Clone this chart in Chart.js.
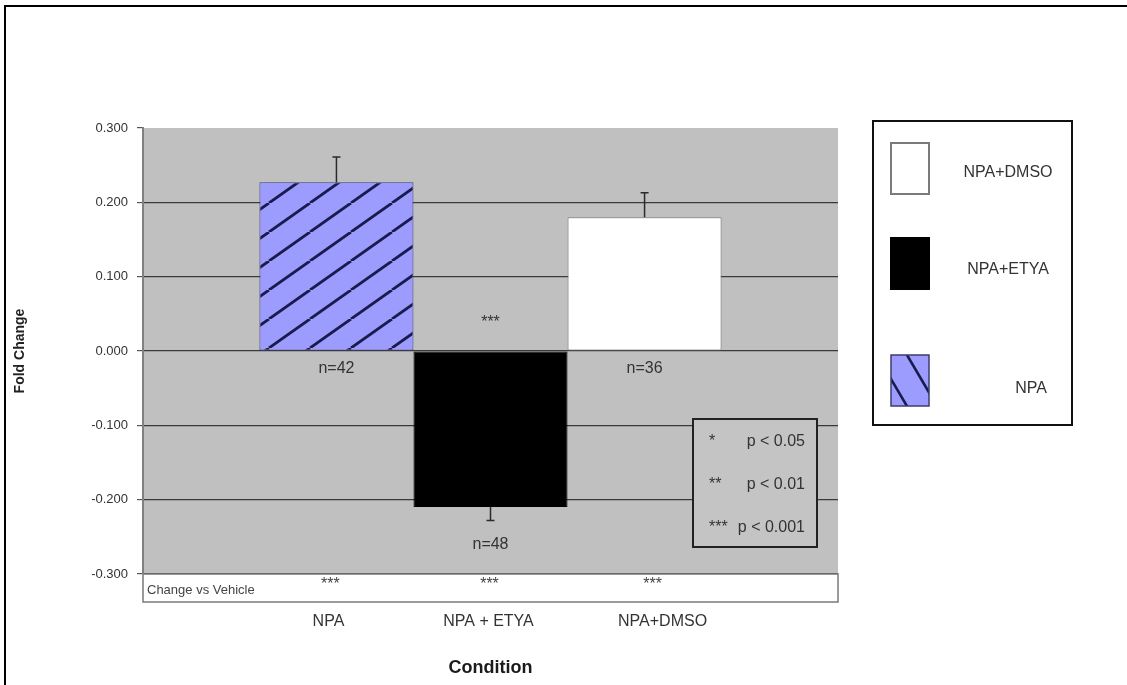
<!DOCTYPE html>
<html><head><meta charset="utf-8">
<script src="https://cdn.jsdelivr.net/npm/chart.js@4/dist/chart.umd.min.js"></script>
<style>html,body{margin:0;padding:0;background:#fff;}#wrap{width:1127px;height:685px;position:relative;}</style>
</head><body><div id="wrap"><canvas id="c" width="1127" height="685"></canvas></div>
<script>
// ---------------- data ----------------
const conditions   = ['NPA', 'NPA + ETYA', 'NPA+DMSO'];
const seriesNames  = ['NPA', 'NPA+ETYA', 'NPA+DMSO'];
const foldChange   = [0.227, -0.210, 0.180];
const errorSE      = [0.034, 0.018, 0.033];
const sampleSizes  = ['n=42', 'n=48', 'n=36'];
const sigVsNPA     = ['', '***', ''];
const sigVsVehicle = ['***', '***', '***'];
const yTicks       = [-0.3, -0.2, -0.1, 0, 0.1, 0.2, 0.3];
const pKeyStars    = ['*', '**', '***'];
const pKeyText     = ['p < 0.05', 'p < 0.01', 'p < 0.001'];
const stripLabel   = 'Change vs Vehicle';
const xTitle       = 'Condition';
const yTitle       = 'Fold Change';

const FONT = "'Liberation Sans', Arial, Helvetica, sans-serif";
Chart.defaults.font.family = FONT;

// striped fill for NPA
function stripePattern() {
  const W = 41, H = 29;
  const c = document.createElement('canvas'); c.width = W; c.height = H;
  const g = c.getContext('2d');
  g.fillStyle = '#9c9cff'; g.fillRect(0, 0, W, H);
  g.strokeStyle = '#1a1a4e'; g.lineWidth = 2.8;
  for (let k = -1; k <= 1; k++) {
    g.beginPath(); g.moveTo(k * W, H); g.lineTo((k + 1) * W, 0); g.stroke();
  }
  const p = g.createPattern(c, 'repeat');
  try { p.setTransform(new DOMMatrix().translate(23, 0)); } catch (e) {}
  return p;
}
const npaFill = stripePattern();

const fills   = [npaFill, '#000000', '#ffffff'];
const borders = ['#3c3c8c', '#000000', '#808080'];

const datasets = seriesNames.map((name, i) => ({
  label: name,
  data: [foldChange[i]],
  backgroundColor: fills[i],
  borderColor: borders[i],
  borderWidth: 1,
  borderSkipped: false,
  categoryPercentage: 0.665,
  barPercentage: 1.0
}));

const decor = {
  id: 'decor',
  beforeDraw(chart) {
    const {ctx, chartArea: a} = chart;
    ctx.save();
    ctx.fillStyle = '#ffffff'; ctx.fillRect(0, 0, chart.width, chart.height);
    ctx.fillStyle = '#c0c0c0'; ctx.fillRect(a.left, a.top, a.right - a.left, a.bottom - a.top);
    ctx.restore();
  },
  afterDatasetsDraw(chart) {
    const {ctx, chartArea: a} = chart;
    const ys = chart.scales.y;
    const zero = ys.getPixelForValue(0);
    ctx.save();
    // error bars
    ctx.strokeStyle = '#2a2a2a'; ctx.lineWidth = 1.5;
    chart.data.datasets.forEach((ds, i) => {
      const bar = chart.getDatasetMeta(i).data[0];
      const v = foldChange[i];
      const end = v >= 0 ? v + errorSE[i] : v - errorSE[i];
      const y0 = ys.getPixelForValue(v), y1 = ys.getPixelForValue(end);
      ctx.beginPath(); ctx.moveTo(bar.x, y0); ctx.lineTo(bar.x, y1);
      ctx.moveTo(bar.x - 4, y1); ctx.lineTo(bar.x + 4, y1); ctx.stroke();
    });
    // n labels and significance vs NPA
    ctx.fillStyle = '#333'; ctx.textAlign = 'center'; ctx.textBaseline = 'alphabetic';
    ctx.font = '16px ' + FONT;
    chart.data.datasets.forEach((ds, i) => {
      const bar = chart.getDatasetMeta(i).data[0];
      const v = foldChange[i];
      let y;
      if (v >= 0) y = zero + 22;
      else y = ys.getPixelForValue(v - errorSE[i]) + 29;
      ctx.fillText(sampleSizes[i], bar.x, y);
      if (sigVsNPA[i]) ctx.fillText(sigVsNPA[i], bar.x, zero - 24);
    });
    // p-value key box
    const bx = 693, by = 419, bw = 124, bh = 128;
    ctx.fillStyle = '#c4c4c4'; ctx.fillRect(bx, by, bw, bh);
    ctx.strokeStyle = '#222'; ctx.lineWidth = 2; ctx.strokeRect(bx, by, bw, bh);
    ctx.fillStyle = '#333'; ctx.font = '16px ' + FONT;
    pKeyStars.forEach((s, i) => {
      const base = 446 + i * 43;
      ctx.textAlign = 'left'; ctx.fillText(s, 709, base);
      ctx.textAlign = 'right'; ctx.fillText(pKeyText[i], 805, base);
    });
    // strip below the plot
    const st = a.bottom, sh = 28;
    ctx.fillStyle = '#ffffff'; ctx.fillRect(a.left, st, a.right - a.left, sh);
    ctx.strokeStyle = '#7a7a7a'; ctx.lineWidth = 1.5; ctx.strokeRect(a.left, st, a.right - a.left, sh);
    ctx.fillStyle = '#444'; ctx.textAlign = 'left'; ctx.font = '13px ' + FONT;
    ctx.fillText(stripLabel, a.left + 4, st + 20);
    const starX = [-6, -1, 8];
    const labX = [-8, -2, 18];
    ctx.font = '16px ' + FONT; ctx.textAlign = 'center';
    chart.data.datasets.forEach((ds, i) => {
      const bar = chart.getDatasetMeta(i).data[0];
      ctx.fillStyle = '#444';
      ctx.fillText(sigVsVehicle[i], bar.x + starX[i], st + 15);
      ctx.fillStyle = '#333';
      ctx.fillText(conditions[i], bar.x + labX[i], 626);
    });
    // x title
    ctx.fillStyle = '#1a1a1a'; ctx.font = 'bold 18px ' + FONT;
    ctx.fillText(xTitle, (a.left + a.right) / 2, 673);
    // legend
    const lx = 873, ly = 121, lw = 199, lh = 304;
    ctx.fillStyle = '#fff'; ctx.fillRect(lx, ly, lw, lh);
    ctx.strokeStyle = '#111'; ctx.lineWidth = 2; ctx.strokeRect(lx, ly, lw, lh);
    const order = [2, 1, 0];
    const swY = [143, 238, 355];
    const txt = [[1008, 173], [1008, 270], [1031, 389]];
    order.forEach((di, k) => {
      const ds = chart.data.datasets[di];
      const sx = 891, sy = swY[k], sw = 38, sh2 = 51;
      if (di === 0) {
        ctx.fillStyle = '#9c9cff'; ctx.fillRect(sx, sy, sw, sh2);
        ctx.save(); ctx.beginPath(); ctx.rect(sx, sy, sw, sh2); ctx.clip();
        ctx.strokeStyle = '#1a1a4e'; ctx.lineWidth = 2.6;
        [[907, 355], [891, 379]].forEach(([px, py]) => {
          ctx.beginPath(); ctx.moveTo(px - 30, py - 51); ctx.lineTo(px + 30, py + 51); ctx.stroke();
        });
        ctx.restore();
        ctx.strokeStyle = '#3c3c6c'; ctx.lineWidth = 1.5;
      } else {
        ctx.fillStyle = ds.backgroundColor; ctx.fillRect(sx, sy, sw, sh2);
        ctx.strokeStyle = di === 2 ? '#7a7a7a' : '#000'; ctx.lineWidth = 2;
      }
      ctx.strokeRect(sx, sy, sw, sh2);
      ctx.fillStyle = '#333'; ctx.font = '16px ' + FONT;
      ctx.textAlign = 'center'; ctx.textBaseline = 'middle';
      ctx.fillText(ds.label, txt[k][0], txt[k][1]);
      ctx.textBaseline = 'alphabetic';
    });
    // outer frame (top and left)
    ctx.fillStyle = '#000';
    ctx.fillRect(4, 5, 1123, 2);
    ctx.fillRect(4, 5, 2, 680);
    ctx.restore();
  }
};

new Chart(document.getElementById('c'), {
  type: 'bar',
  data: { labels: [''], datasets },
  options: {
    responsive: false,
    animation: false,
    devicePixelRatio: 1,
    layout: { padding: { left: 0, top: 128, right: 289, bottom: 111 } },
    plugins: { legend: { display: false }, tooltip: { enabled: false } },
    scales: {
      x: { display: false },
      y: {
        min: -0.3, max: 0.3,
        afterBuildTicks: s => { s.ticks = yTicks.map(v => ({ value: v })); },
        afterFit: s => { s.width = 143; },
        ticks: {
          callback: v => (Math.abs(v) < 1e-9 ? 0 : v).toFixed(3),
          color: '#333', font: { size: 13 }, padding: 9
        },
        grid: {
          color: c => (c.tick && c.tick.value > 0.29) ? 'rgba(0,0,0,0)' : '#3a3a3a',
          lineWidth: 1.2, drawTicks: true, tickLength: 6, tickColor: '#555'
        },
        border: { display: true, color: '#808080', width: 2 },
        title: { display: true, text: yTitle, color: '#222', font: { size: 14, weight: 'bold' }, padding: { top: 12, bottom: 0 } }
      }
    }
  },
  plugins: [decor]
});
</script></body></html>
